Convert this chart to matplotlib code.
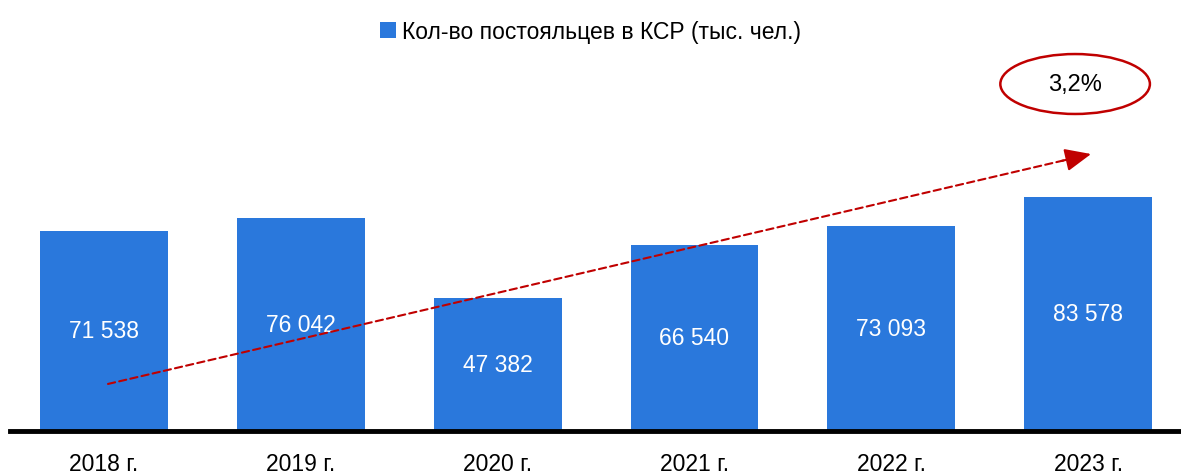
import matplotlib.pyplot as plt
from matplotlib.patches import Ellipse
from matplotlib import font_manager

years = ["2018 г.", "2019 г.", "2020 г.", "2021 г.", "2022 г.", "2023 г."]
guests = [71538, 76042, 47382, 66540, 73093, 83578]
legend_label = "Кол-во постояльцев в КСР (тыс. чел.)"
growth = "3,2%"

names = {f.name for f in font_manager.fontManager.ttflist}
fam = ["Liberation Sans Narrow", "Liberation Sans"] if "Liberation Sans Narrow" in names else ["Liberation Sans"]
plt.rcParams["font.family"] = fam

fig = plt.figure(figsize=(11.81, 4.77), dpi=100)
ax = fig.add_axes([10 / 1181, 45 / 477, 1171 / 1181, 382 / 477])

x = range(len(years))
bars = ax.bar(x, guests, width=0.65, color="#2A78DC", label=legend_label)
for xi, v in zip(x, guests):
    s = f"{v:,}".replace(",", " ")
    ax.text(xi, v / 2, s, ha="center", va="center", color="white", fontsize=16.5)

ax.set_xlim(-0.478, 5.472)
ax.set_ylim(0, 136400)
ax.set_xticks(list(x))
ax.set_xticklabels(years, fontsize=16.5)
ax.tick_params(axis="x", length=0, pad=15)
ax.set_yticks([])
for s in ["top", "right", "left"]:
    ax.spines[s].set_visible(False)
ax.spines["bottom"].set_linewidth(3.5)

# trend arrow: dashed shaft + solid head
x0, y0, x1, y1 = 0.02, 16800, 5.015, 98900
ax.annotate("", xy=(x1, y1), xytext=(x0, y0),
            arrowprops=dict(arrowstyle="-", shrinkA=0, shrinkB=8,
                            color="#C00000", lw=1.5, linestyle=(0, (3.5, 2))))
t = 0.97
ax.annotate("", xy=(x1, y1), xytext=(x0 + t * (x1 - x0), y0 + t * (y1 - y0)),
            arrowprops=dict(arrowstyle="-|>,head_length=0.8,head_width=0.35",
                            mutation_scale=20, shrinkA=0, shrinkB=0,
                            color="#C00000", lw=1.5))
ax.add_patch(Ellipse((4.934, 123900), 0.76, 21400, fill=False, edgecolor="#C00000", lw=1.8))
ax.text(4.934, 123900, growth, ha="center", va="center", fontsize=17)

fig.legend(handles=[bars], labels=[legend_label], loc="upper center", bbox_to_anchor=(0.5, 1.0),
           frameon=False, fontsize=16.5, handlelength=0.7, handleheight=0.7, handletextpad=0.3)

fig.savefig("out.png", dpi=100)
